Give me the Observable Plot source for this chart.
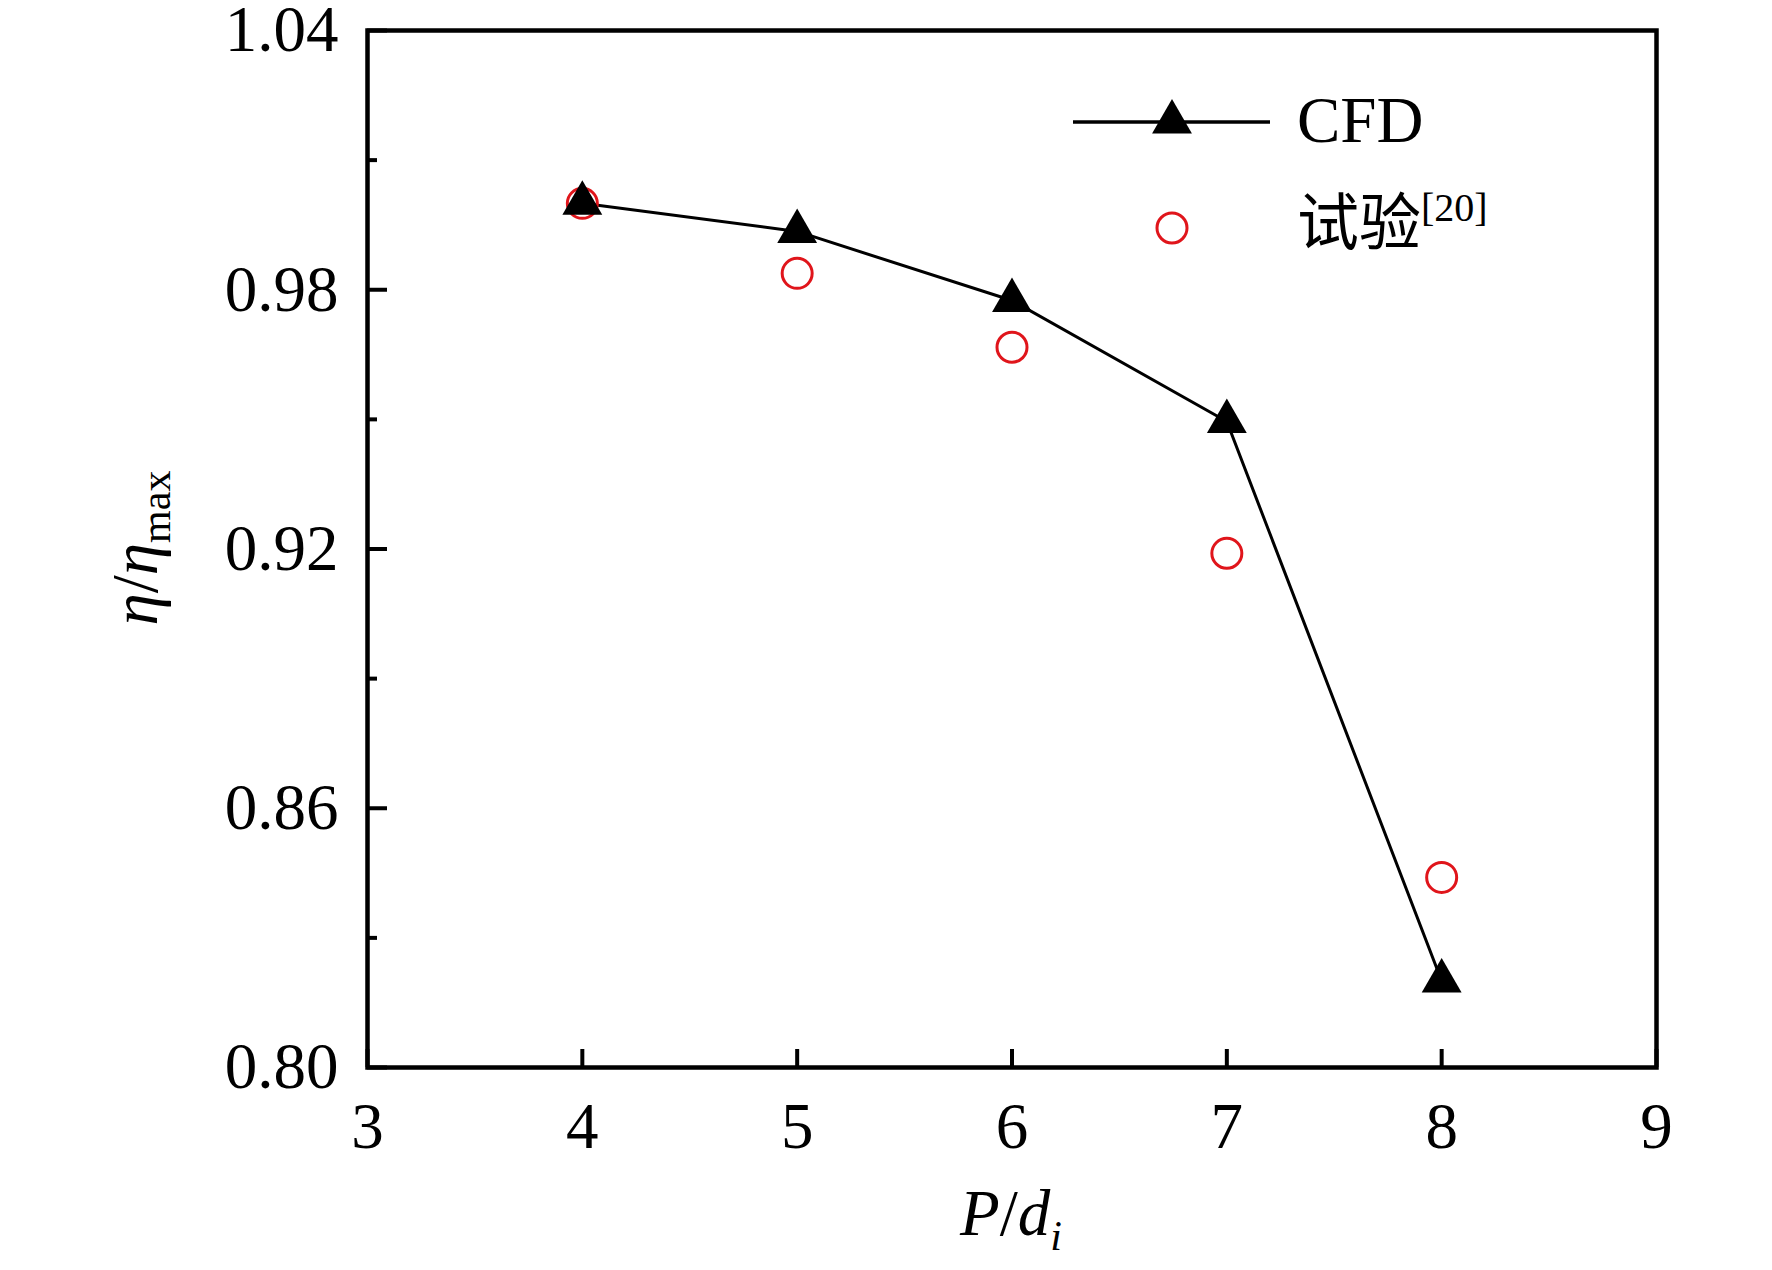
<!DOCTYPE html>
<html>
<head>
<meta charset="utf-8">
<script src="https://cdn.jsdelivr.net/npm/d3@7"></script>
<script src="https://cdn.jsdelivr.net/npm/@observablehq/plot@0.6"></script>
<style>
  html, body { margin: 0; padding: 0; background: #fff; }
  #chart svg { display: block; }
</style>
</head>
<body>
<div id="chart"></div>
<script>
// ---- data ----
const xValues = [4, 5, 6, 7, 8];
const cfdValues = [1.000, 0.9935, 0.9775, 0.9495, 0.8200];
const expValues = [1.000, 0.9838, 0.9667, 0.9190, 0.8440];
const xTicks = [3, 4, 5, 6, 7, 8, 9];
const yMajorTicks = [0.80, 0.86, 0.92, 0.98, 1.04];
const yMinorTicks = [0.83, 0.89, 0.95, 1.01];
const seriesNames = ["CFD", "试验"];

const cfd = xValues.map((x, i) => ({x, y: cfdValues[i]}));
const exp = xValues.map((x, i) => ({x, y: expValues[i]}));

const RED = "#e0151b";
const SERIF = "'Liberation Serif', 'Times New Roman', serif";

const svg = Plot.plot({
  width: 1772,
  height: 1270,
  marginLeft: 367,
  marginRight: 116,
  marginTop: 30,
  marginBottom: 203,
  x: {domain: [3, 9]},
  y: {domain: [0.80, 1.04]},
  style: {fontFamily: SERIF, fontSize: "65px", background: "#fff", color: "#000", overflow: "visible"},
  marks: [
    Plot.axisY(yMajorTicks, {tickSize: 0, tickPadding: 29, tickFormat: d => d.toFixed(2), fontSize: 65, label: null}),
    Plot.axisY(yMajorTicks, {tickSize: -20, tickFormat: () => "", strokeWidth: 4, label: null}),
    Plot.axisY(yMinorTicks, {tickSize: -10, tickFormat: () => "", strokeWidth: 4, label: null}),
    Plot.axisX(xTicks, {tickSize: 0, tickPadding: 34, tickFormat: d => String(d), fontSize: 65, label: null}),
    Plot.axisX(xTicks, {tickSize: -18, tickFormat: () => "", strokeWidth: 4, label: null}),
    Plot.frame({stroke: "#000", strokeWidth: 4.5}),
    Plot.line(cfd, {x: "x", y: "y", stroke: "#000", strokeWidth: 3}),
    Plot.dot(exp, {x: "x", y: "y", r: 15, stroke: RED, strokeWidth: 3, fill: "none"}),
    Plot.dot(cfd, {x: "x", y: "y", symbol: "triangle", r: 14.8, fill: "#000", stroke: "none"})
  ]
});

document.getElementById("chart").appendChild(svg);

// ---- axis titles with sub-scripts ----
const s = d3.select(svg);

const yl = s.append("text")
  .attr("transform", "translate(157,548) rotate(-90)")
  .attr("text-anchor", "middle")
  .attr("font-family", SERIF)
  .attr("font-size", 65)
  .attr("fill", "#000");
yl.append("tspan").attr("font-style", "italic").text("η");
yl.append("tspan").text("/");
yl.append("tspan").attr("font-style", "italic").text("η");
yl.append("tspan").attr("font-size", 42).attr("dy", 13).text("max");

const xl = s.append("text")
  .attr("x", 1011).attr("y", 1235)
  .attr("text-anchor", "middle")
  .attr("font-family", SERIF)
  .attr("font-size", 65)
  .attr("fill", "#000");
xl.append("tspan").attr("font-style", "italic").text("P");
xl.append("tspan").text("/");
xl.append("tspan").attr("font-style", "italic").text("d");
xl.append("tspan").attr("font-style", "italic").attr("font-size", 42).attr("dy", 15).text("i");

// ---- legend ----
const lg = s.append("g").attr("text-anchor", "start");
lg.append("line").attr("x1", 1073).attr("x2", 1270).attr("y1", 122).attr("y2", 122)
  .attr("stroke", "#000").attr("stroke-width", 3.5);
lg.append("path")
  .attr("transform", "translate(1172,122)")
  .attr("d", d3.symbol(d3.symbolTriangle, Math.PI * 14.8 * 14.8)())
  .attr("fill", "#000");
lg.append("circle").attr("cx", 1172).attr("cy", 228).attr("r", 15)
  .attr("fill", "none").attr("stroke", RED).attr("stroke-width", 3);
lg.append("text").attr("x", 1297).attr("y", 142).attr("text-anchor", "start")
  .attr("font-family", SERIF).attr("font-size", 65).attr("fill", "#000")
  .text(seriesNames[0]);
const t2 = lg.append("text").attr("x", 1297).attr("y", 245).attr("text-anchor", "start")
  .attr("font-family", "'Noto Sans CJK SC', sans-serif").attr("font-size", 62).attr("fill", "#000");
t2.append("tspan").text(seriesNames[1]);
t2.append("tspan").attr("font-family", SERIF).attr("font-size", 40).attr("dy", -24).text("[20]");
</script>
</body>
</html>
